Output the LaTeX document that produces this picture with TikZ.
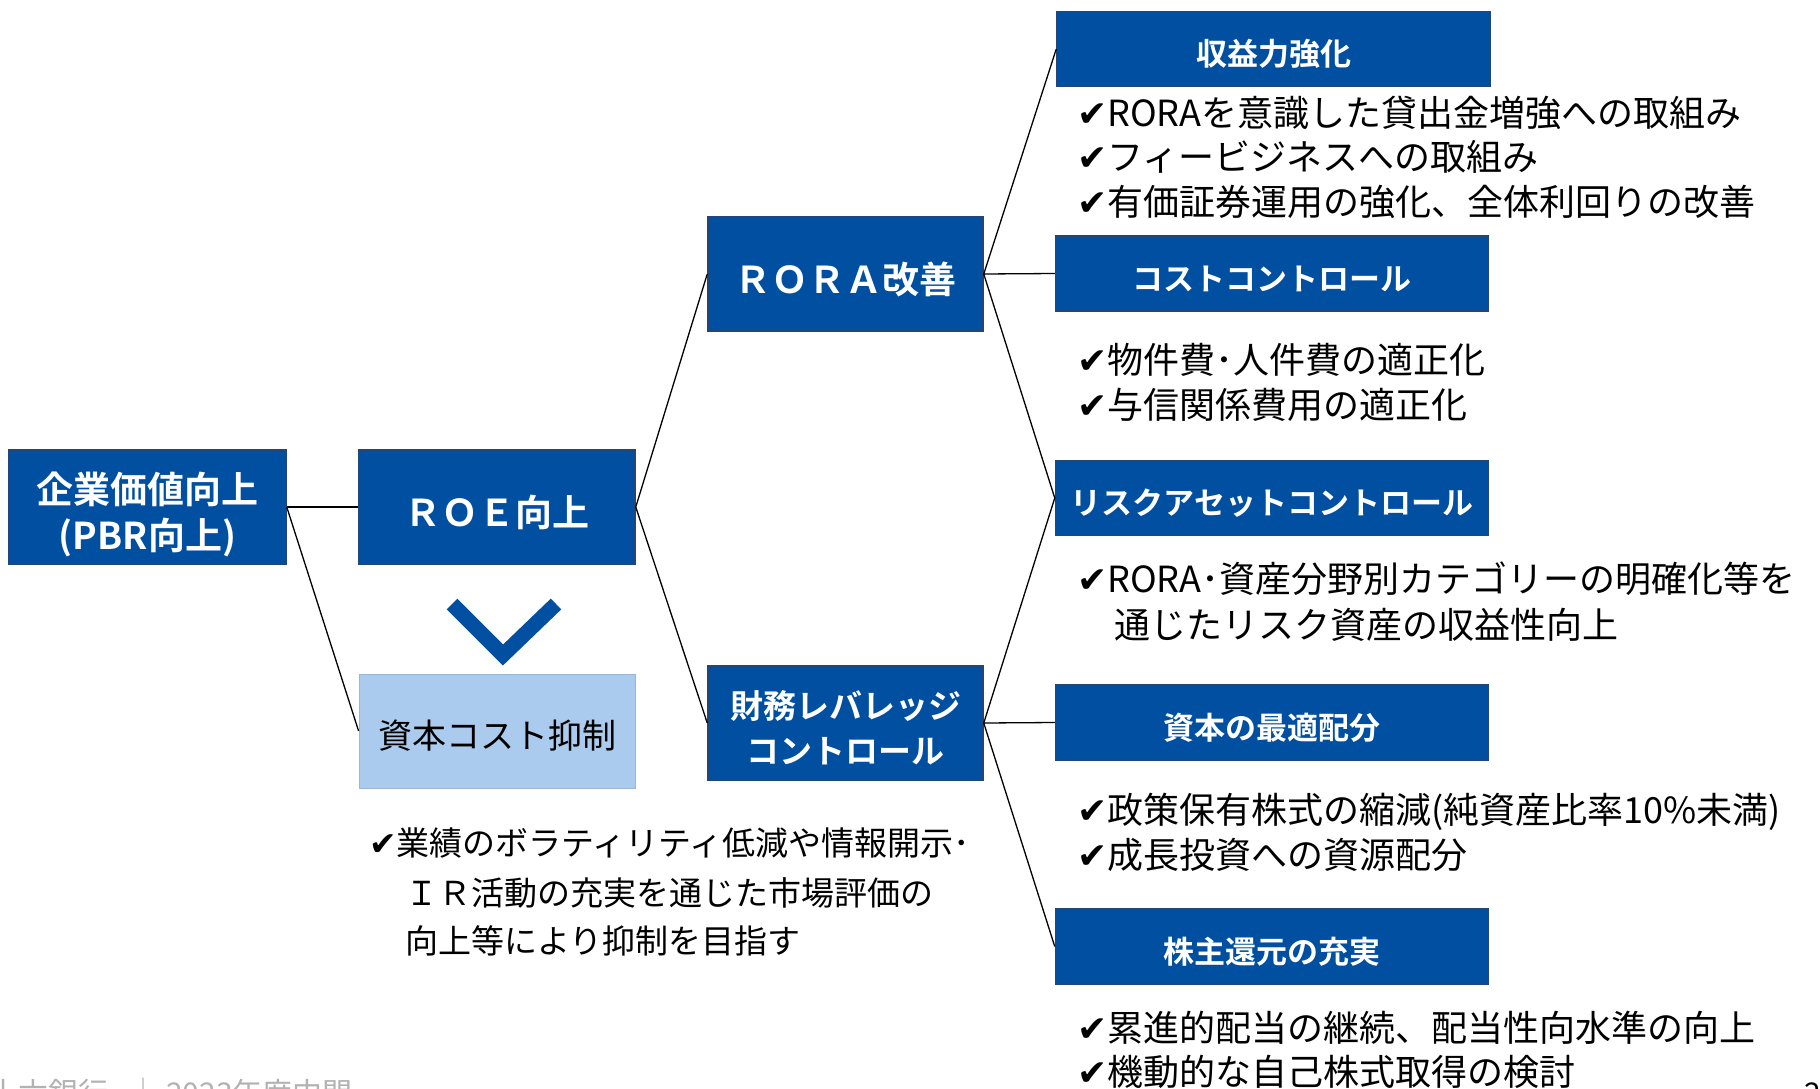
\documentclass[tikz,border=0pt]{standalone}
\usepackage{fontspec}
\setmainfont{Noto Sans CJK JP}[BoldFont={Noto Sans CJK JP Bold}]
\newfontfamily\chkfont{DejaVu Sans}
\newcommand\ck{{\chkfont ✔}}
\definecolor{navy}{RGB}{0,79,160}
\definecolor{navyedge}{RGB}{35,70,120}
\definecolor{lightblue}{RGB}{170,203,237}
\begin{document}
\begin{tikzpicture}[x=1pt,y=-1pt,
  darkbox/.style={rectangle, fill=navy, draw=navyedge, line width=1.5pt, inner sep=0pt},
  subbox/.style={darkbox, minimum width=433pt, minimum height=75pt},
  midbox/.style={darkbox, minimum width=276pt, minimum height=114pt},
  lab/.style={inner sep=0pt, align=center, text=white, font=\bfseries\fontsize{37}{46}\selectfont},
  sublab/.style={lab, font=\bfseries\fontsize{31}{38}\selectfont},
  conn/.style={draw=black, line width=1.3pt},
  bl/.style={anchor=base west, inner sep=0pt, font=\fontsize{36}{44}\selectfont},
  bll/.style={anchor=base west, inner sep=0pt, font=\fontsize{33}{44}\selectfont}
]
\useasboundingbox (0,0) rectangle (1820,1089);
\fill[white] (0,0) rectangle (1820,1089);

% left column
\node[midbox, minimum width=277pt] (A) at (147.5,507) {};
\node[lab] (At) at ([yshift=-7pt]A.center) {企業価値向上\\(PBR向上)};
\node[midbox] (ROE) at (497,507) {};
\node[lab] (ROEt) at ([yshift=-5pt]ROE.center) {ＲＯＥ向上};
\node[rectangle, fill=lightblue, draw=lightblue!90!black, line width=0.8pt, minimum width=276pt,
  minimum height=114pt, inner sep=0pt] (CC) at (497,731) {};
\node[inner sep=0pt, font=\fontsize{34}{40}\selectfont] (CCt) at ([yshift=-5pt]CC.center) {資本コスト抑制};
\draw[navy, line width=15pt] (452,604) -- (503,655) -- (556,604);

\node[bll] (L1) at (369,855) {\ck 業績のボラティリティ低減や情報開示･};
\node[bll] (L2) at (405,905) {ＩＲ活動の充実を通じた市場評価の};
\node[bll] (L3) at (405,953) {向上等により抑制を目指す};

% middle column
\node[midbox, minimum width=275pt] (RORA) at (845.5,274) {};
\node[lab] (RORAt) at ([yshift=-5pt]RORA.center) {ＲＯＲＡ改善};
\node[midbox, minimum width=275pt] (FIN) at (845.5,723) {};
\node[lab, font=\bfseries\fontsize{33}{45}\selectfont] (FINt) at ([yshift=-5pt]FIN.center) {財務レバレッジ\\コントロール};

% right column
\node[subbox] (S1) at (1273.5,49) {};
\node[sublab] (S1t) at ([yshift=-5pt]S1.center) {収益力強化};
\node[subbox] (S2) at (1272,273.5) {};
\node[sublab] (S2t) at ([yshift=-5pt]S2.center) {コストコントロール};
\node[subbox] (S3) at (1272,498) {};
\node[sublab] (S3t) at ([yshift=-5pt]S3.center) {リスクアセットコントロール};
\node[subbox] (S4) at (1272,722.5) {};
\node[sublab] (S4t) at ([yshift=-5pt]S4.center) {資本の最適配分};
\node[subbox] (S5) at (1272,946.5) {};
\node[sublab] (S5t) at ([yshift=-5pt]S5.center) {株主還元の充実};

\node[bl] (T11) at (1077,127) {\ck RORAを意識した貸出金増強への取組み};
\node[bl] (T12) at (1077,170) {\ck フィービジネスへの取組み};
\node[bl] (T13) at (1077,215) {\ck 有価証券運用の強化、全体利回りの改善};
\node[bl] (T21) at (1077,373) {\ck 物件費･人件費の適正化};
\node[bl] (T22) at (1077,418) {\ck 与信関係費用の適正化};
\node[bl] (T31) at (1077,592) {\ck RORA･資産分野別カテゴリーの明確化等を};
\node[bl] (T32) at (1114,638) {通じたリスク資産の収益性向上};
\node[bl] (T41) at (1077,823) {\ck 政策保有株式の縮減(純資産比率10\%未満)};
\node[bl] (T42) at (1077,868) {\ck 成長投資への資源配分};
\node[bl] (T51) at (1077,1041) {\ck 累進的配当の継続、配当性向水準の向上};
\node[bl] (T52) at (1077,1085) {\ck 機動的な自己株式取得の検討};

% connectors
\draw[conn] (A.east) -- (ROE.west);
\draw[conn] (A.east) -- (CC.west);
\draw[conn] (ROE.east) -- (RORA.west);
\draw[conn] (ROE.east) -- (FIN.west);
\draw[conn] (RORA.east) -- (S1.west);
\draw[conn] (RORA.east) -- (S2.west);
\draw[conn] (RORA.east) -- (S3.west);
\draw[conn] (FIN.east) -- (S3.west);
\draw[conn] (FIN.east) -- (S4.west);
\draw[conn] (FIN.east) -- (S5.west);

% footer (cut off at page edge)
\node[anchor=base west, inner sep=0pt, text=black!30, font=\fontsize{30}{30}\selectfont] (foot) at (-12,1104) {十六銀行\hspace{20pt}｜\hspace{8pt}2023年度中間};
\node[anchor=base west, inner sep=0pt, font=\fontsize{30}{30}\selectfont] (pg) at (1804,1104) {2};
\end{tikzpicture}
\end{document}
